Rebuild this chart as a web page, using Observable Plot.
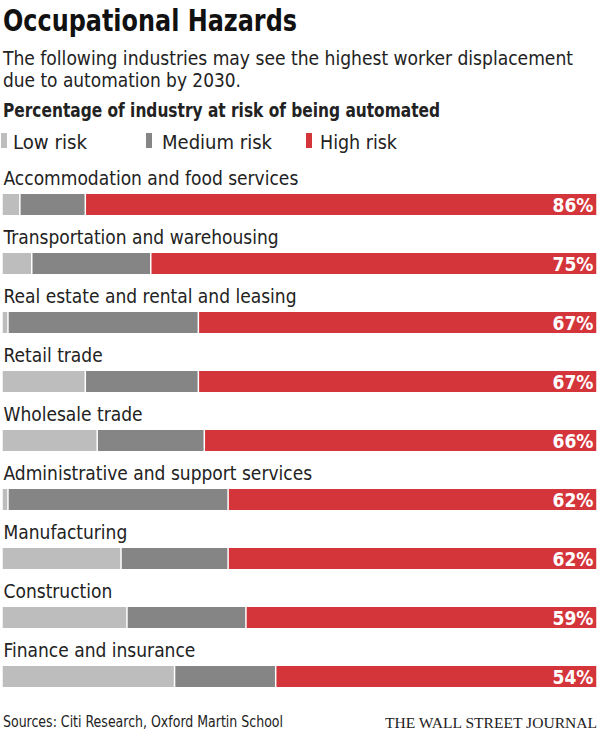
<!DOCTYPE html>
<html>
<head>
<meta charset="utf-8">
<script src="https://cdn.jsdelivr.net/npm/d3@7"></script>
<script src="https://cdn.jsdelivr.net/npm/@observablehq/plot@0.6"></script>
<style>
  body { margin: 0; background: #fff; }
  #wrap { position: relative; width: 600px; height: 735px; overflow: hidden; font-family: "DejaVu Sans Condensed", "Liberation Sans Narrow", sans-serif; color: #111; }
  .abs { position: absolute; white-space: nowrap; transform-origin: 0 0; }
  #title { left: 3px; top: 4px; font-size: 30px; font-weight: bold; line-height: 34px; }
  .sub { left: 3px; font-size: 20px; line-height: 24px; color: #222; }
  #head { left: 3px; top: 98px; font-size: 20px; font-weight: bold; line-height: 24px; color: #222; }
  .leg { top: 130px; font-size: 20px; line-height: 24px; color: #222; }
  .sw { position: absolute; top: 133px; width: 6px; height: 15px; }
  #src { left: 3px; top: 713px; font-size: 16px; line-height: 18px; color: #222; }
  #wsj { left: 385px; top: 714px; font-size: 15px; line-height: 18px; font-family: "Liberation Serif", "DejaVu Serif", serif; color: #222; }
  #chart { position: absolute; left: 0; top: 160px; }
  #chart text { font-family: "DejaVu Sans Condensed", "Liberation Sans Narrow", sans-serif; }
</style>
</head>
<body>
<div id="wrap">
  <div id="title" class="abs" data-w="294">Occupational Hazards</div>
  <div class="abs sub" style="top:46px" data-w="570">The following industries may see the highest worker displacement</div>
  <div class="abs sub" style="top:68px" data-w="238">due to automation by 2030.</div>
  <div id="head" class="abs" data-w="437">Percentage of industry at risk of being automated</div>
  <div class="sw" style="left:1px;background:#bdbdbd"></div>
  <div class="abs leg" style="left:13px" data-w="74">Low risk</div>
  <div class="sw" style="left:146px;background:#858585"></div>
  <div class="abs leg" style="left:162px" data-w="110">Medium risk</div>
  <div class="sw" style="left:306px;background:#d4353b"></div>
  <div class="abs leg" style="left:320px" data-w="77">High risk</div>
  <div id="chart"></div>
  <div id="src" class="abs" data-w="280">Sources: Citi Research, Oxford Martin School</div>
  <div id="wsj" class="abs" data-w="212">THE WALL STREET JOURNAL</div>
</div>
<script>
const categories = [
  "Accommodation and food services",
  "Transportation and warehousing",
  "Real estate and rental and leasing",
  "Retail trade",
  "Wholesale trade",
  "Administrative and support services",
  "Manufacturing",
  "Construction",
  "Finance and insurance"
];
const lowRisk    = [3, 5, 1, 14, 16, 1, 20, 21, 29];
const mediumRisk = [11, 20, 32, 19, 18, 37, 18, 20, 17];
const highRisk   = [86, 75, 67, 67, 66, 62, 62, 59, 54];
const riskNames  = ["Low risk", "Medium risk", "High risk"];
const riskColors = ["#bdbdbd", "#858585", "#d4353b"];

const rows = [];
categories.forEach((c, i) => {
  rows.push({industry: c, risk: riskNames[0], value: lowRisk[i]});
  rows.push({industry: c, risk: riskNames[1], value: mediumRisk[i]});
  rows.push({industry: c, risk: riskNames[2], value: highRisk[i]});
});
const totals = categories.map((c, i) => ({industry: c, total: lowRisk[i] + mediumRisk[i] + highRisk[i], high: highRisk[i]}));

const chart = Plot.plot({
  width: 600,
  height: 540,
  marginLeft: 2,
  marginRight: 3,
  marginTop: 32,
  marginBottom: 10,
  x: {domain: [0, 100], axis: null},
  y: {domain: categories, axis: null, paddingInner: 0.64, paddingOuter: 0},
  color: {domain: riskNames, range: riskColors},
  marks: [
    Plot.barX(rows, {x: "value", y: "industry", fill: "risk", insetLeft: 0.75, insetRight: 0.75}),
    Plot.text(categories, {x: 0, y: d => d, text: d => d, textAnchor: "start", lineAnchor: "bottom", dx: 1, dy: -20, fontSize: 19, fill: "#222"}),
    Plot.text(totals, {x: "total", y: "industry", text: d => d.high + "%", textAnchor: "end", dx: -4, dy: 1, fontSize: 19, fontWeight: "bold", fill: "#fff"})
  ]
});
document.getElementById("chart").appendChild(chart);

// fit header/footer text widths to reference widths
document.querySelectorAll("[data-w]").forEach(el => {
  const w = el.getBoundingClientRect().width;
  const t = +el.dataset.w;
  if (w > 0) el.style.transform = `scaleX(${t / w})`;
});
</script>
</body>
</html>
